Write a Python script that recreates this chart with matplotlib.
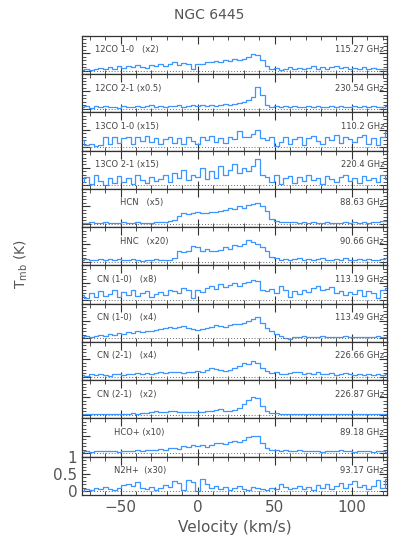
import numpy as np
import matplotlib
matplotlib.use("Agg")
import matplotlib.pyplot as plt
from matplotlib.ticker import MultipleLocator

# velocity channels (km/s), 3 km/s spacing
velocity = np.arange(-75, 124, 3)

labels = ["12CO 1-0   (x2)", "12CO 2-1 (x0.5)", "13CO 1-0 (x15)", "13CO 2-1 (x15)",
          "HCN   (x5)", "HNC   (x20)", "CN (1-0)   (x8)", "CN (1-0)   (x4)",
          "CN (2-1)   (x4)", "CN (2-1)   (x2)", "HCO+ (x10)", "N2H+  (x30)"]
freqs = ["115.27 GHz", "230.54 GHz", "110.2 GHz", "220.4 GHz", "88.63 GHz", "90.66 GHz",
         "113.19 GHz", "113.49 GHz", "226.66 GHz", "226.87 GHz", "89.18 GHz", "93.17 GHz"]
label_x = [0.043, 0.043, 0.043, 0.043, 0.125, 0.125, 0.05, 0.05, 0.05, 0.05, 0.105, 0.105]

co10 = [0.03, 0.06, 0.02, 0.05, 0.08, 0.04, 0.10, 0.06, 0.12, 0.08,
        0.14, 0.09, 0.15, 0.11, 0.08, 0.16, 0.12, 0.18, 0.14, 0.20,
        0.24, 0.17, 0.22, 0.19, 0.05, 0.20, 0.18, 0.26, 0.24, 0.28,
        0.25, 0.30, 0.27, 0.32, 0.30, 0.33, 0.38, 0.48, 0.45, 0.30,
        0.12, 0.04, 0.08, 0.03, 0.06, 0.09, 0.04, 0.07, 0.05, 0.08,
        0.12, 0.06, 0.10, 0.05, 0.09, 0.14, 0.07, 0.10, 0.04, 0.08,
        0.06, 0.10, 0.05, 0.07, 0.04, 0.06, 0.05]
co21 = [0.05, 0.08, 0.03, 0.07, 0.04, 0.09, 0.05, 0.06, 0.03, 0.08,
        0.06, 0.04, 0.09, 0.05, 0.07, 0.10, 0.06, 0.08, 0.05, 0.09,
        0.07, 0.11, 0.06, 0.08, 0.10, 0.07, 0.12, 0.09, 0.11, 0.08,
        0.10, 0.14, 0.12, 0.15, 0.18, 0.20, 0.24, 0.35, 0.62, 0.40,
        0.12, 0.05, 0.08, 0.04, 0.07, 0.05, 0.09, 0.06, 0.04, 0.07,
        0.05, 0.08, 0.04, 0.06, 0.09, 0.05, 0.07, 0.04, 0.06, 0.08,
        0.05, 0.07, 0.04, 0.08, 0.05, 0.06, 0.07]
c13o10 = [0.20, 0.05, 0.10, 0.02, 0.05, 0.28, 0.08, 0.30, 0.12, 0.25,
          0.30, 0.10, 0.28, 0.18, 0.32, 0.15, 0.25, 0.08, 0.22, 0.30,
          0.12, 0.26, 0.08, 0.30, 0.18, 0.10, 0.28, 0.20, 0.32, 0.15,
          0.25, 0.12, 0.30, 0.22, 0.45, 0.30, 0.28, 0.38, 0.50, 0.25,
          0.20, 0.30, 0.02, 0.15, 0.28, 0.10, 0.22, 0.30, 0.05, 0.25,
          0.32, 0.18, 0.10, 0.28, 0.20, 0.35, 0.12, 0.30, 0.22, 0.15,
          0.28, 0.34, 0.10, 0.25, 0.05, 0.30, 0.45]
c13o21 = [0.10, 0.25, 0.05, 0.30, 0.12, 0.02, 0.20, 0.08, 0.28, 0.10,
          0.22, 0.05, 0.30, 0.15, 0.08, 0.25, 0.12, 0.18, 0.30, 0.10,
          0.35, 0.20, 0.45, 0.15, 0.30, 0.25, 0.50, 0.18, 0.40, 0.22,
          0.55, 0.30, 0.45, 0.60, 0.35, 0.50, 0.40, 0.55, 0.75, 0.30,
          0.25, 0.10, 0.30, 0.05, 0.20, 0.28, 0.08, 0.25, 0.12, 0.30,
          0.15, 0.22, 0.05, 0.28, 0.18, 0.10, 0.25, 0.30, 0.12, 0.20,
          0.08, 0.28, 0.15, 0.22, 0.10, 0.30, 0.18]
hcn = [0.03, 0.02, 0.04, 0.03, 0.02, 0.04, 0.03, 0.02, 0.03, 0.04,
       0.02, 0.03, 0.04, 0.03, 0.02, 0.03, 0.05, 0.04, 0.05, 0.06,
       0.10, 0.22, 0.30, 0.28, 0.30, 0.32, 0.30, 0.31, 0.33, 0.32,
       0.35, 0.38, 0.45, 0.42, 0.50, 0.46, 0.52, 0.55, 0.58, 0.50,
       0.35, 0.12, 0.07, 0.05, 0.04, 0.05, 0.04, 0.03, 0.04, 0.03,
       0.04, 0.03, 0.03, 0.04, 0.03, 0.02, 0.03, 0.04, 0.03, 0.04,
       0.03, 0.04, 0.03, 0.05, 0.04, 0.06, 0.07]
hnc = [0.05, 0.08, 0.04, 0.06, 0.09, 0.05, 0.07, 0.04, 0.08, 0.06,
       0.04, 0.07, 0.05, 0.03, 0.06, 0.05, 0.08, 0.05, 0.06, 0.04,
       0.10, 0.30, 0.28, 0.32, 0.45, 0.42, 0.30, 0.36, 0.32, 0.30,
       0.35, 0.42, 0.38, 0.48, 0.45, 0.52, 0.62, 0.58, 0.50, 0.42,
       0.30, 0.15, 0.10, 0.06, 0.08, 0.05, 0.07, 0.10, 0.06, 0.09,
       0.05, 0.07, 0.12, 0.06, 0.04, 0.08, 0.06, 0.10, 0.05, 0.04,
       0.07, 0.05, 0.09, 0.06, 0.04, 0.07, 0.12]
cn10a = [0.15, 0.05, 0.20, 0.10, 0.25, 0.12, 0.18, 0.30, 0.10, 0.22,
         0.15, 0.28, 0.12, 0.20, 0.25, 0.10, 0.18, 0.22, 0.15, 0.30,
         0.25, 0.20, 0.35, 0.28, 0.05, 0.30, 0.22, 0.35, 0.40, 0.32,
         0.45, 0.38, 0.42, 0.48, 0.40, 0.50, 0.52, 0.58, 0.55, 0.30,
         0.25, 0.32, 0.20, 0.40, 0.28, 0.08, 0.25, 0.18, 0.30, 0.22,
         0.35, 0.40, 0.28, 0.32, 0.38, 0.20, 0.25, 0.15, 0.22, 0.18,
         0.30, 0.12, 0.25, 0.20, 0.05, 0.30, 0.35]
cn10b = [0.05, 0.08, 0.03, 0.06, 0.10, 0.08, 0.12, 0.10, 0.15, 0.12,
         0.18, 0.15, 0.20, 0.18, 0.22, 0.20, 0.25, 0.28, 0.30, 0.32,
         0.30, 0.33, 0.35, 0.30, 0.28, 0.25, 0.27, 0.30, 0.34, 0.38,
         0.35, 0.32, 0.38, 0.42, 0.40, 0.45, 0.50, 0.55, 0.60, 0.45,
         0.30, 0.20, 0.12, 0.06, 0.02, -0.02, 0.05, 0.03, 0.06, 0.04,
         0.05, 0.03, 0.06, 0.04, 0.03, 0.05, 0.04, 0.06, 0.03, 0.05,
         0.04, 0.03, 0.05, 0.04, 0.06, 0.03, 0.05]
cn21a = [0.05, 0.03, 0.06, 0.04, 0.07, 0.05, 0.03, 0.06, 0.08, 0.05,
         0.07, 0.06, 0.09, 0.07, 0.10, 0.08, 0.11, 0.12, 0.10, 0.13,
         0.12, 0.14, 0.11, 0.13, 0.12, 0.15, 0.14, 0.20, 0.24, 0.22,
         0.18, 0.16, 0.20, 0.25, 0.30, 0.38, 0.35, 0.45, 0.38, 0.25,
         0.15, 0.10, 0.12, 0.08, 0.06, 0.10, 0.14, 0.12, 0.08, 0.10,
         0.07, 0.12, 0.08, 0.06, 0.09, 0.05, 0.08, 0.10, 0.06, 0.05,
         0.08, 0.05, 0.07, 0.04, 0.06, 0.05, 0.07]
cn21b = [0.02, 0.03, 0.02, 0.03, 0.02, 0.03, 0.02, 0.03, 0.02, 0.03,
         0.03, 0.04, 0.03, 0.05, 0.06, 0.08, 0.10, 0.08, 0.09, 0.12,
         0.10, 0.08, 0.09, 0.07, 0.08, 0.09, 0.08, 0.10, 0.12, 0.14,
         0.16, 0.12, 0.10, 0.14, 0.20, 0.30, 0.42, 0.52, 0.48, 0.25,
         0.12, 0.06, 0.04, 0.03, 0.02, 0.03, 0.02, 0.03, 0.02, 0.03,
         0.02, 0.03, 0.02, 0.03, 0.02, 0.03, 0.02, 0.02, 0.03, 0.02,
         0.03, 0.02, 0.03, 0.02, 0.03, 0.02, 0.03]
hcop = [0.03, 0.05, 0.04, 0.06, 0.05, 0.07, 0.05, 0.06, 0.04, 0.07,
        0.06, 0.05, 0.08, 0.06, 0.10, 0.08, 0.10, 0.12, 0.10, 0.14,
        0.15, 0.13, 0.20, 0.18, 0.22, 0.20, 0.23, 0.18, 0.24, 0.28,
        0.30, 0.25, 0.33, 0.35, 0.32, 0.38, 0.45, 0.50, 0.48, 0.30,
        0.15, 0.08, 0.10, 0.06, 0.08, 0.05, 0.06, 0.08, 0.05, 0.07,
        0.05, 0.06, 0.04, 0.07, 0.05, 0.06, 0.08, 0.05, 0.06, 0.04,
        0.06, 0.05, 0.07, 0.04, 0.06, 0.05, 0.04]
n2hp = [0.02, 0.08, 0.05, 0.10, 0.06, 0.12, 0.08, 0.04, 0.10, 0.18,
        0.20, 0.15, 0.28, 0.10, 0.08, 0.12, 0.05, 0.10, 0.18, 0.12,
        0.30, 0.25, 0.05, 0.32, 0.28, 0.02, 0.35, 0.20, 0.10, 0.15,
        0.08, 0.12, 0.05, 0.10, 0.15, 0.08, 0.04, 0.12, 0.10, 0.06,
        0.05, 0.10, 0.08, 0.20, 0.12, 0.06, 0.10, 0.15, 0.08, 0.12,
        0.05, 0.18, 0.10, 0.22, 0.08, 0.15, 0.25, 0.10, 0.20, 0.30,
        0.12, 0.18, 0.08, 0.15, 0.32, 0.10, 0.35]

spectra = [co10, co21, c13o10, c13o21, hcn, hnc, cn10a, cn10b, cn21a, cn21b, hcop, n2hp]

line_color = "#3d96ff"
text_color = "#555555"
frame_color = "#333333"

fig, axes = plt.subplots(len(spectra), 1, figsize=(4.19, 5.51), dpi=100, sharex=True)
fig.subplots_adjust(left=0.196, right=0.924, top=0.935, bottom=0.102, hspace=0)

for ax, spec, lab, fr, lx in zip(axes, spectra, labels, freqs, label_x):
    ax.plot(velocity, spec, drawstyle="steps-mid", color=line_color, lw=0.9)
    ax.axhline(0, color="#666666", ls=(0, (1, 2)), lw=0.7)
    ax.set_xlim(-75, 123)
    ax.set_ylim(-0.1, 1.0)
    ax.text(lx, 0.63, lab, transform=ax.transAxes, fontsize=6, color="#444444", va="center")
    ax.text(0.99, 0.63, fr, transform=ax.transAxes, fontsize=6, color="#444444",
            va="center", ha="right")
    ax.xaxis.set_major_locator(MultipleLocator(50))
    ax.xaxis.set_minor_locator(MultipleLocator(10))
    ax.yaxis.set_major_locator(MultipleLocator(0.5))
    ax.yaxis.set_minor_locator(MultipleLocator(0.1))
    ax.tick_params(which="both", direction="in", top=True, right=True,
                   color=frame_color, labelcolor=text_color, labelsize=11)
    ax.tick_params(which="major", length=6, width=0.8)
    ax.tick_params(which="minor", length=3, width=0.6)
    for s in ax.spines.values():
        s.set_color(frame_color)
        s.set_linewidth(0.9)
    if ax is not axes[-1]:
        ax.tick_params(labelleft=False, labelbottom=False)

axes[-1].set_yticks([0, 0.5, 1])
axes[-1].set_yticklabels(["0", "0.5", "1"])
axes[-1].set_xlabel("Velocity (km/s)", fontsize=11, color=text_color)
fig.text(0.05, 0.52, r"T$_{\rm mb}$ (K)", rotation=90, fontsize=10, color=text_color,
         ha="center", va="center")
fig.suptitle("NGC 6445", y=0.985, fontsize=10, color=text_color)

fig.savefig("out.png", dpi=100)
